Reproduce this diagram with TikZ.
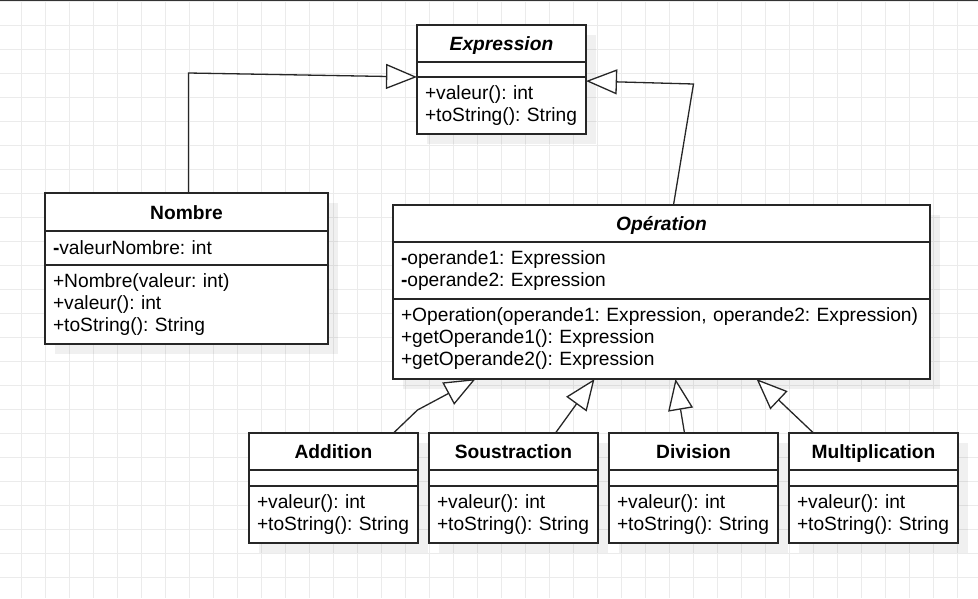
\documentclass[tikz,border=0pt]{standalone}
\usepackage{fontspec}
\setmainfont{Liberation Sans}
\usetikzlibrary{arrows.meta,positioning,shadows}

\newcommand{\umlfont}{\fontsize{19.2}{22}\selectfont\frenchspacing}

\begin{document}
\begin{tikzpicture}[
    x=1pt, y=-1pt,
    font=\umlfont,
    gridline/.style={black!8, line width=1pt},
    box/.style={draw=black!85, line width=1.3pt, fill=white, inner xsep=8pt, inner ysep=0pt, outer sep=0pt,
      drop shadow={shadow xshift=10pt, shadow yshift=-10pt, fill=black, opacity=0.06}},
    head/.style={box, font=\umlfont\bfseries, align=center, text height=16pt, text depth=2pt},
    abstract/.style={box, font=\umlfont\bfseries\itshape, align=center, text height=16pt, text depth=2pt},
    part/.style={box, align=left},
    inherit/.style={-{Triangle[length=31pt, width=25pt, fill=white]}, line width=1.3pt, black!85}
  ]

  \useasboundingbox (0,0) rectangle (978,598);

  % Background grid
  \foreach \gx in {21,45,...,957} \draw[gridline] (\gx,0) -- (\gx,598);
  \foreach \gy in {1,25,...,577} \draw[gridline] (0,\gy) -- (978,\gy);
  \draw[black!80, line width=2pt] (0,0) -- (978,0);

  % Expression
  \node[abstract, text width=153pt, minimum height=37pt, anchor=north west] (expr) at (417,25) {Expression};
  \node[part, text width=153pt, minimum height=15pt, below=0pt of expr] (exprA) {};
  \node[part, text width=153pt, minimum height=57pt, below=0pt of exprA] (exprM) {+valeur(): int\\+toString(): String};

  % Nombre
  \node[head, text width=267pt, minimum height=38pt, anchor=north west] (nombre) at (45,193) {Nombre};
  \node[part, text width=267pt, minimum height=34pt, below=0pt of nombre] (nombreA) {\textbf{-}valeurNombre: int};
  \node[part, text width=267pt, minimum height=79pt, below=0pt of nombreA] (nombreM) {+Nombre(valeur: int)\\+valeur(): int\\+toString(): String};

  % Operation
  \node[abstract, text width=521pt, minimum height=37pt, anchor=north west] (op) at (393,205) {Opération};
  \node[part, text width=521pt, minimum height=57pt, below=0pt of op] (opA) {\textbf{-}operande1: Expression\\\textbf{-}operande2: Expression};
  \node[part, text width=521pt, minimum height=80pt, below=0pt of opA] (opM) {+Operation(operande1: Expression, operande2: Expression)\\+getOperande1(): Expression\\+getOperande2(): Expression};

  % Subclasses
  \node[head, text width=153pt, minimum height=37pt, anchor=north west] (add) at (249,433) {Addition};
  \node[part, text width=153pt, minimum height=16pt, below=0pt of add] (addA) {};
  \node[part, text width=153pt, minimum height=57pt, below=0pt of addA] (addM) {+valeur(): int\\+toString(): String};

  \node[head, text width=153pt, minimum height=37pt, right=11pt of add] (sous) {Soustraction};
  \node[part, text width=153pt, minimum height=16pt, below=0pt of sous] (sousA) {};
  \node[part, text width=153pt, minimum height=57pt, below=0pt of sousA] (sousM) {+valeur(): int\\+toString(): String};

  \node[head, text width=153pt, minimum height=37pt, right=11pt of sous] (div) {Division};
  \node[part, text width=153pt, minimum height=16pt, below=0pt of div] (divA) {};
  \node[part, text width=153pt, minimum height=57pt, below=0pt of divA] (divM) {+valeur(): int\\+toString(): String};

  \node[head, text width=153pt, minimum height=37pt, right=11pt of div] (mult) {Multiplication};
  \node[part, text width=153pt, minimum height=16pt, below=0pt of mult] (multA) {};
  \node[part, text width=153pt, minimum height=57pt, below=0pt of multA] (multM) {+valeur(): int\\+toString(): String};

  % Generalisations
  \draw[inherit] ([xshift=2pt]nombre.north) -- ++(0,-120) -- (exprM.north west);
  \draw[inherit] ([xshift=12pt]op.north) -- ++(20,-121) -- ([yshift=-4pt]exprM.north east);
  \draw[inherit] ([xshift=60pt]add.north) -- ++(24,-23) -- ([xshift=-186pt]opM.south);
  \draw[inherit] ([xshift=42pt]sous.north) -- ([xshift=-67pt]opM.south);
  \draw[inherit] ([xshift=-9pt]div.north) -- ([xshift=14pt]opM.south);
  \draw[inherit] ([xshift=-60pt]mult.north) -- ([xshift=95pt]opM.south);
\end{tikzpicture}
\end{document}
